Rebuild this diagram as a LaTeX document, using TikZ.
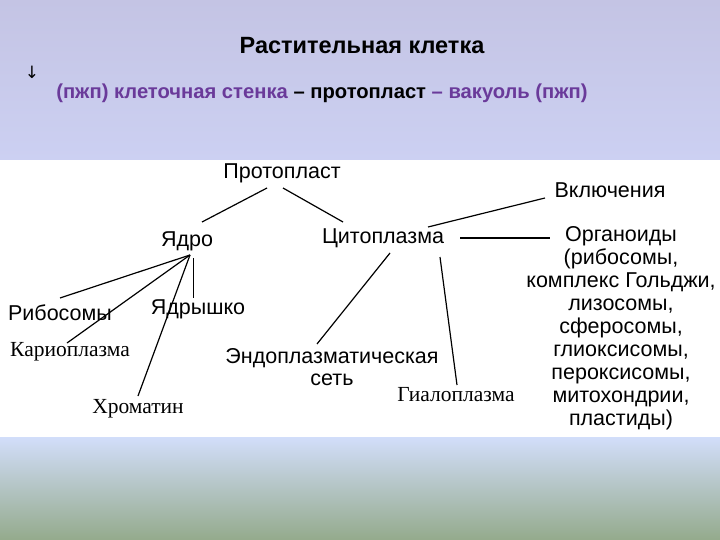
\documentclass[tikz,border=0pt]{standalone}
\usepackage{fontspec}
\setmainfont{Liberation Sans}
\newfontfamily\serifl{Liberation Serif}
\newfontfamily\dejavu{DejaVu Sans}
\definecolor{topA}{HTML}{C4C4E4}
\definecolor{topB}{HTML}{CCD0F2}
\definecolor{botA}{HTML}{D2DEFA}
\definecolor{botB}{HTML}{94AA8C}
\definecolor{purp}{HTML}{6A3A9A}
\begin{document}
\begin{tikzpicture}[x=1pt,y=-1pt,
  lbl/.style={font=\fontsize{21.5}{21.5}\selectfont, inner sep=0pt, anchor=center},
  slbl/.style={font=\serifl\fontsize{21.5}{21.5}\selectfont, inner sep=0pt, anchor=center},
  link/.style={draw=black, line width=1.2pt}]
\useasboundingbox (0,0) rectangle (720,540);
\shade[top color=topA, bottom color=topB] (0,0) rectangle (720,160);
\fill[white] (0,160) rectangle (720,437);
\shade[top color=botA, bottom color=botB] (0,437) rectangle (720,540);
\node[font=\bfseries\fontsize{23.5}{23.5}\selectfont, inner sep=0pt] (title) at (362,46) {Растительная клетка};
\node[font=\dejavu\fontsize{17}{17}\selectfont, inner sep=0pt] (arr) at (32,72) {↓};
\node[font=\bfseries\fontsize{20.2}{20.2}\selectfont, inner sep=0pt] (sub) at (322,93)
  {\textcolor{purp}{(пжп) клеточная стенка} – протопласт \textcolor{purp}{– вакуоль (пжп)}};
\node[lbl] (proto) at (282,173) {Протопласт};
\node[lbl] (vkl) at (610,190) {Включения};
\node[lbl] (yadro) at (187,241) {Ядро};
\node[lbl] (cyto) at (383,238) {Цитоплазма};
\node[lbl, align=center, font=\fontsize{21.5}{23}\selectfont, anchor=north] (org) at (621,226)
  {Органоиды\\(рибосомы,\\комплекс Гольджи,\\лизосомы,\\сферосомы,\\глиоксисомы,\\пероксисомы,\\митохондрии,\\пластиды)};
\node[lbl] (ribo) at (60,313) {Рибосомы};
\node[lbl] (yadr) at (198,309) {Ядрышко};
\node[slbl] (kario) at (70,352) {Кариоплазма};
\node[slbl] (chrom) at (138,409) {Хроматин};
\node[lbl, align=center, font=\fontsize{21.5}{22}\selectfont, anchor=north] (endo) at (332,348) {Эндоплазматическая\\сеть};
\node[slbl] (gial) at (456,395) {Гиалоплазма};
% connector end points
\coordinate (p1) at (267,188); \coordinate (y0) at (202,222);
\coordinate (p2) at (283,188); \coordinate (c0) at (343,222);
\coordinate (yb) at (190,255);
\coordinate (r1) at (60,298); \coordinate (k1) at (67,343);
\coordinate (n0) at (193,258); \coordinate (n1) at (193,298);
\coordinate (h1) at (138,396);
\coordinate (ce) at (390,253); \coordinate (e1) at (317,344);
\coordinate (cg) at (440,257); \coordinate (g1) at (457,385);
\coordinate (cv) at (428,227); \coordinate (v1) at (545,198);
\coordinate (co) at (460,238); \coordinate (o1) at (550,238);
\draw[link] (p1) -- (y0);
\draw[link] (p2) -- (c0);
\draw[link] (yb) -- (r1);
\draw[link] (yb) -- (k1);
\draw[link, line width=0.9pt] (n0) -- (n1);
\draw[link] (yb) -- (h1);
\draw[link] (ce) -- (e1);
\draw[link] (cg) -- (g1);
\draw[link] (cv) -- (v1);
\draw[link] (co) -- (o1);
\end{tikzpicture}
\end{document}
